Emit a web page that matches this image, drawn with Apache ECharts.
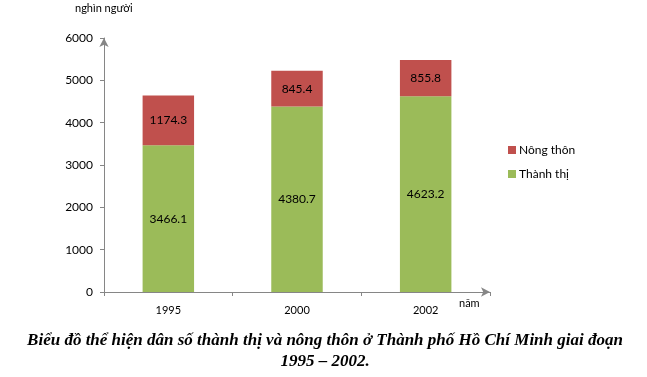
<!doctype html>
<html>
<head>
    <meta charset="utf-8">
    <title>Dân số TP. Hồ Chí Minh</title>
    <script src="https://cdn.jsdelivr.net/npm/echarts@6/dist/echarts.min.js"></script>
</head>
<body style="margin:0;padding:0">
    <div id="tb" style="width:647px;height:377px"></div>
    <script>
        var years = ['1995', '2000', '2002'];
        var thanhThi = [3466.1, 4380.7, 4623.2];
        var nongThon = [1174.3, 845.4, 855.8];
        var yTicks = { min: 0, max: 6000, interval: 1000 };

        var chart = echarts.init(document.getElementById('tb'));
        var font = 'Lato, "Open Sans", sans-serif';
        var labelStyle = {
            show: true,
            position: 'inside',
            color: '#000',
            fontSize: 12,
            fontFamily: font
        };

        chart.setOption({
            animation: false,
            textStyle: { fontFamily: font },
            grid: { left: 104, right: 157, top: 38, bottom: 85 },
            legend: {
                orient: 'vertical',
                left: 503,
                top: 139,
                itemWidth: 8,
                itemHeight: 8,
                itemGap: 12,
                icon: 'rect',
                data: ['Nông thôn', 'Thành thị'],
                textStyle: { fontSize: 12, color: '#000', fontFamily: font, padding: [0, 0, 0, -2] }
            },
            xAxis: {
                type: 'category',
                data: years,
                axisLine: {
                    lineStyle: { color: '#868686' },
                    symbol: ['none', 'arrow'],
                    symbolSize: [7, 9]
                },
                axisTick: { show: true, length: 4, lineStyle: { color: '#868686' } },
                axisLabel: { color: '#000', fontSize: 11, margin: 13 }
            },
            yAxis: {
                type: 'value',
                min: yTicks.min,
                max: yTicks.max,
                interval: yTicks.interval,
                splitLine: { show: false },
                axisLine: {
                    show: true,
                    lineStyle: { color: '#868686' },
                    symbol: ['none', 'arrow'],
                    symbolSize: [7, 9]
                },
                axisTick: { show: true, length: 4, lineStyle: { color: '#868686' } },
                axisLabel: {
                    color: '#000', fontSize: 12, margin: 11,
                    formatter: function (v) { return String(v); }
                }
            },
            graphic: [
                {
                    type: 'text', left: 75, top: 3,
                    style: { text: 'nghìn người', fill: '#000', font: '11px ' + font }
                },
                {
                    type: 'text', left: 459, top: 298,
                    style: { text: 'năm', fill: '#000', font: '11px ' + font }
                },
                {
                    type: 'text',
                    style: {
                        x: 325, y: 330,
                        text: 'Biểu đồ thể hiện dân số thành thị và nông thôn ở Thành phố Hồ Chí Minh giai đoạn\n1995 – 2002.',
                        fill: '#000',
                        align: 'center',
                        lineHeight: 21,
                        font: 'italic bold 17px "Liberation Serif", serif'
                    }
                }
            ],
            series: [
                {
                    name: 'Thành thị',
                    type: 'bar',
                    stack: 'ds',
                    barWidth: '40%',
                    itemStyle: { color: '#9BBB59' },
                    label: labelStyle,
                    data: thanhThi
                },
                {
                    name: 'Nông thôn',
                    type: 'bar',
                    stack: 'ds',
                    barWidth: '40%',
                    itemStyle: { color: '#C0504D' },
                    label: labelStyle,
                    data: nongThon
                }
            ]
        });
    </script>
</body>
</html>
